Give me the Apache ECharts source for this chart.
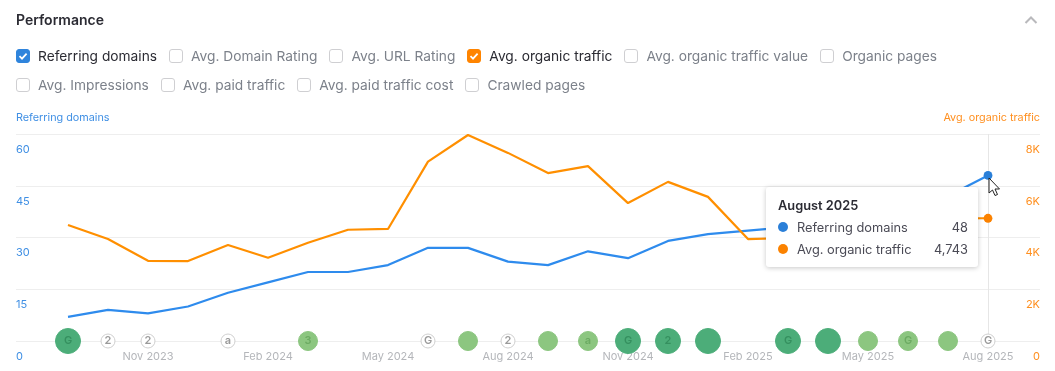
<!DOCTYPE html>
<html>
<head>
<meta charset="utf-8">
<title>Performance</title>
<script src="https://cdn.jsdelivr.net/npm/echarts@6/dist/echarts.min.js"></script>
<style>
  html, body { margin: 0; padding: 0; background: #fff; }
  body { width: 1055px; height: 371px; overflow: hidden; position: relative; font-family: Inter, "Noto Sans", sans-serif; }
  #main { position: absolute; left: 0; top: 0; width: 1055px; height: 371px; }
  .head { position: absolute; left: 16px; top: 11px; font-size: 14px; line-height: 18px; font-weight: 600; color: #2b2b33; }
  .chevron { position: absolute; left: 1024px; top: 15px; }
  .row { position: absolute; left: 16px; display: flex; height: 20px; align-items: center; font-size: 13.75px; color: #7c818a; }
  .opt { display: flex; align-items: center; margin-right: 12px; white-space: nowrap; }
  .box { width: 12px; height: 12px; border: 1px solid #cfcfd2; border-radius: 3px; margin-right: 8px; background: #fff; flex: none; }
  .on { color: #2b2b33; }
  .box.blue { background: #2f84dc; border-color: #2f84dc; }
  .box.orange { background: #ff8400; border-color: #ff8400; }
  .box svg { display: block; }
</style>
</head>
<body>
<div id="main"></div>
<div class="head">Performance</div>
<svg class="chevron" width="14" height="10" viewBox="0 0 14 10"><path d="M1.5 8 L7 2.5 L12.5 8" fill="none" stroke="#b9b9bc" stroke-width="2"/></svg>
<div class="row" id="row1" style="top:46px"></div>
<div class="row" id="row2" style="top:75px"></div>
<script>
// months on the x axis
var categories = ['Sep 2023', 'Oct 2023', 'Nov 2023', 'Dec 2023', 'Jan 2024', 'Feb 2024', 'Mar 2024', 'Apr 2024',
  'May 2024', 'Jun 2024', 'Jul 2024', 'Aug 2024', 'Sep 2024', 'Oct 2024', 'Nov 2024', 'Dec 2024',
  'Jan 2025', 'Feb 2025', 'Mar 2025', 'Apr 2025', 'May 2025', 'Jun 2025', 'Jul 2025', 'Aug 2025'];
var referringDomains = [7, 9, 8, 10, 14, 17, 20, 20, 22, 27, 27, 23, 22, 26, 24, 29, 31, 32, 33, 35, 37, 39, 42, 48];
var organicTraffic = [4480, 3940, 3100, 3090, 3710, 3220, 3800, 4300, 4330, 6930, 7960, 7270, 6490, 6760, 5330, 6150,
  5570, 3940, 3980, 4100, 4300, 4500, 4740, 4743];
// update markers along the bottom: '' = no marker, big / mid = green, small = outlined
var markerKinds = ['big', 'small', 'small', '', 'small', '', 'mid', '', '', 'small', 'mid', 'small', 'mid', 'mid',
  'big', 'big', 'big', '', 'big', 'big', 'mid', 'mid', 'mid', 'small'];
var markerLetters = ['G', '2', '2', '', 'a', '', '3', '', '', 'G', '', '2', '', 'a', 'G', '2', '', '', 'G', '', '', 'G', '', 'G'];
var leftTicks = [0, 15, 30, 45, 60];
var rightTicks = [0, 2000, 4000, 6000, 8000];

var optionsRow1 = ['Referring domains', 'Avg. Domain Rating', 'Avg. URL Rating', 'Avg. organic traffic', 'Avg. organic traffic value', 'Organic pages'];
var optionsRow2 = ['Avg. Impressions', 'Avg. paid traffic', 'Avg. paid traffic cost', 'Crawled pages'];

var BLUE = '#2a7fd8';
var ORANGE = '#fb8200';
var BLUE_TEXT = '#3f8fe4';
var ORANGE_TEXT = '#ff8f1f';

function fillRow(id, names) {
  var html = names.map(function (name) {
    var cls = name === 'Referring domains' ? 'blue' : name === 'Avg. organic traffic' ? 'orange' : '';
    var tick = cls ? '<svg width="12" height="12" viewBox="0 0 12 12"><path d="M2.5 6.2 L5 8.6 L9.6 3.6" fill="none" stroke="#fff" stroke-width="1.8"/></svg>' : '';
    return '<div class="opt ' + (cls ? 'on' : '') + '"><span class="box ' + cls + '">' + tick + '</span>' + name + '</div>';
  }).join('');
  document.getElementById(id).innerHTML = html;
}
fillRow('row1', optionsRow1);
fillRow('row2', optionsRow2);

var markerStyles = {
  big: { size: 25, color: '#4cad79', border: '#4cad79', text: '#35905f' },
  mid: { size: 19, color: '#8cc680', border: '#8cc680', text: '#6cab62' },
  small: { size: 14, color: '#ffffff', border: '#cfcfcf', text: '#9a9a9a' }
};

var markerData = [];
categories.forEach(function (c, i) {
  if (!markerKinds[i]) return;
  var s = markerStyles[markerKinds[i]];
  markerData.push({
    value: [c, 0],
    symbolSize: s.size,
    itemStyle: { color: s.color, borderColor: s.border, borderWidth: 1, opacity: 1 },
    label: { show: true, formatter: markerLetters[i] || ' ', color: s.text, fontSize: 11, fontWeight: 600 }
  });
});

var fullMonths = { Aug: 'August' };

var myChart = echarts.init(document.getElementById('main'));
var axisFont = 'Inter, "Noto Sans", sans-serif';

myChart.setOption({
  animation: false,
  textStyle: { fontFamily: axisFont },
  grid: [
    // wide grid only carries the gridlines and tick labels
    { left: 16, right: 15, top: 134, bottom: 30 },
    // the months sit 40px apart in this one
    { left: 48, right: 47, top: 134, bottom: 30 }
  ],
  xAxis: [
    { gridIndex: 0, type: 'value', min: 0, max: 1, show: false },
    {
      gridIndex: 1,
      type: 'category',
      data: categories,
      axisLine: { show: false },
      axisTick: { show: false },
      axisLabel: {
        color: '#b4b6ba',
        fontSize: 11,
        margin: 10,
        interval: function (i) { return i % 3 === 2; }
      }
    }
  ],
  yAxis: [
    {
      gridIndex: 0,
      type: 'value',
      min: leftTicks[0],
      max: leftTicks[leftTicks.length - 1],
      interval: 15,
      name: 'Referring domains',
      nameLocation: 'end',
      nameGap: 11,
      nameTextStyle: { color: BLUE_TEXT, fontSize: 10.8, align: 'left' },
      axisLine: { show: false },
      axisTick: { show: false },
      splitLine: { lineStyle: { color: '#eeeeee', width: 1 } },
      axisLabel: { inside: true, margin: 0, color: BLUE_TEXT, fontSize: 11, verticalAlign: 'top', padding: [10, 0, 0, 0] }
    },
    {
      gridIndex: 0,
      type: 'value',
      position: 'right',
      min: rightTicks[0],
      max: rightTicks[rightTicks.length - 1],
      interval: 2000,
      name: 'Avg. organic traffic',
      nameLocation: 'end',
      nameGap: 11,
      nameTextStyle: { color: ORANGE_TEXT, fontSize: 10.8, align: 'right' },
      axisLine: { show: false },
      axisTick: { show: false },
      splitLine: { show: false },
      axisLabel: {
        inside: true, margin: 0, color: ORANGE_TEXT, fontSize: 11, verticalAlign: 'top', padding: [10, 0, 0, 0],
        formatter: function (v) { return v === 0 ? '0' : v / 1000 + 'K'; }
      }
    },
    { gridIndex: 1, type: 'value', min: 0, max: 60, show: false },
    { gridIndex: 1, type: 'value', min: 0, max: 8000, show: false }
  ],
  tooltip: {
    trigger: 'axis',
    alwaysShowContent: true,
    transitionDuration: 0,
    position: [766, 187],
    padding: 0,
    borderWidth: 0,
    backgroundColor: '#fff',
    extraCssText: 'box-shadow:0 1px 5px rgba(0,0,0,.22);border-radius:3px;',
    axisPointer: { type: 'line', z: 1, lineStyle: { color: '#e6e6e6', width: 1, type: 'solid' } },
    formatter: function (params) {
      var i = params[0].dataIndex;
      var parts = categories[i].split(' ');
      var row = function (color, name, val) {
        return '<div style="display:flex;align-items:center;height:22px;font-size:12.8px;color:#4a4a55">' +
          '<span style="width:10px;height:10px;border-radius:50%;background:' + color + ';margin-right:9px"></span>' +
          '<span style="flex:1">' + name + '</span><span>' + val + '</span></div>';
      };
      return '<div style="width:190px;height:60px;padding:10px 10px 10px 12px;font-family:' + "Inter,sans-serif" + '">' +
        '<div style="font-weight:600;font-size:12.8px;color:#2b2b33;height:18px;line-height:18px;margin-bottom:1px">' +
        (fullMonths[parts[0]] || parts[0]) + ' ' + parts[1] + '</div>' +
        row(BLUE, 'Referring domains', referringDomains[i]) +
        row(ORANGE, 'Avg. organic traffic', organicTraffic[i].toLocaleString('en-US')) + '</div>';
    }
  },
  series: [
    {
      name: 'Referring domains',
      type: 'line',
      xAxisIndex: 1,
      yAxisIndex: 2,
      data: referringDomains,
      showSymbol: false,
      symbol: 'circle',
      symbolSize: 8,
      z: 10,
      color: BLUE,
      lineStyle: { width: 2.2, color: BLUE }
    },
    {
      name: 'Avg. organic traffic',
      type: 'line',
      xAxisIndex: 1,
      yAxisIndex: 3,
      data: organicTraffic,
      showSymbol: false,
      symbol: 'circle',
      symbolSize: 8,
      z: 10,
      color: ORANGE,
      lineStyle: { width: 2.2, color: ORANGE }
    },
    {
      name: 'Updates',
      type: 'scatter',
      xAxisIndex: 1,
      yAxisIndex: 2,
      clip: false,
      symbol: 'circle',
      data: markerData,
      z: 5,
      tooltip: { show: false },
      label: { position: 'inside' }
    }
  ],
  graphic: [
    {
      // mouse cursor in the screenshot
      type: 'polygon',
      z: 100,
      shape: { points: [[989, 178], [989, 193], [992.5, 190], [995, 195.5], [997.5, 194.5], [995, 189], [999.5, 189]] },
      style: { fill: '#fff', stroke: '#222', lineWidth: 1 }
    }
  ]
});

myChart.dispatchAction({ type: 'showTip', seriesIndex: 0, dataIndex: categories.length - 1 });
</script>
</body>
</html>
